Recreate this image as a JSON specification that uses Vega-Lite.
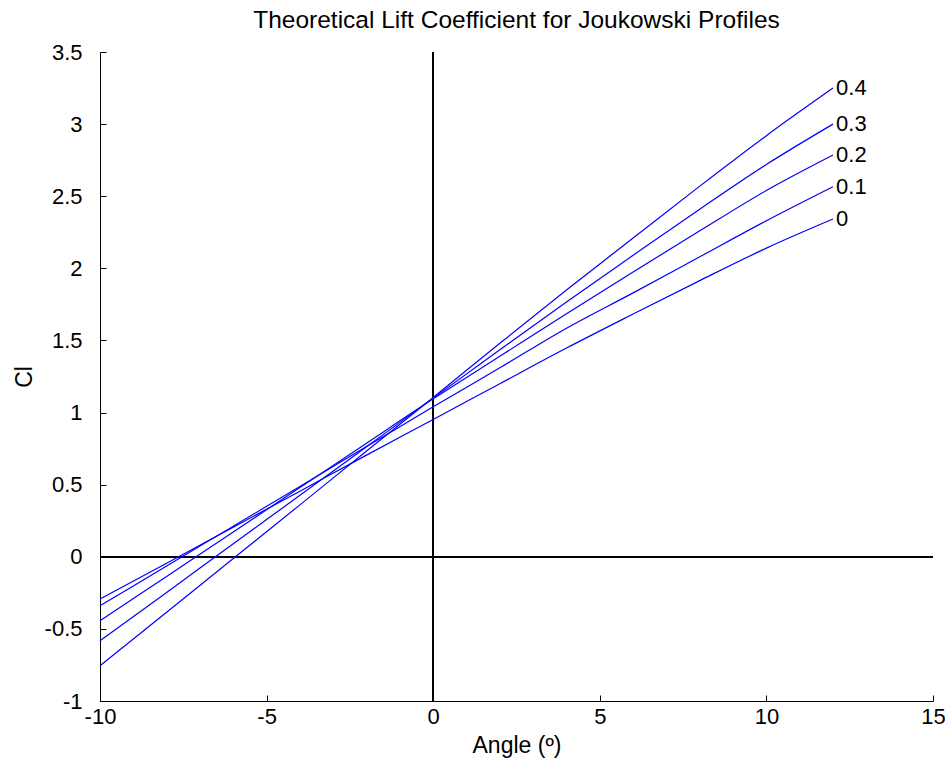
{
  "$schema": "https://vega.github.io/schema/vega-lite/v6.json",
  "autosize": "none",
  "width": 833,
  "height": 649,
  "padding": {"left": 100, "top": 52, "right": 12, "bottom": 68},
  "background": "white",
  "config": {
    "view": {"stroke": null},
    "font": "Liberation Sans",
    "axis": {"grid": false, "domainColor": "black", "tickColor": "black", "labelColor": "black", "titleColor": "black", "labelFont": "Liberation Sans", "titleFont": "Liberation Sans", "labelFontSize": 22, "titleFontSize": 23, "titleFontWeight": "normal", "tickSize": -6, "domainWidth": 1, "tickWidth": 1}
  },
  "title": {"text": "Theoretical Lift Coefficient for Joukowski Profiles", "font": "Liberation Sans", "fontSize": 24.5, "fontWeight": "normal", "color": "black", "anchor": "middle", "offset": 8},
  "data": {"values": [
    {"t": "0", "angle": -10, "cl": -0.293}, {"t": "0", "angle": -8, "cl": -0.045}, {"t": "0", "angle": -6, "cl": 0.205}, {"t": "0", "angle": -4, "cl": 0.455}, {"t": "0", "angle": -2, "cl": 0.705}, {"t": "0", "angle": 0, "cl": 0.952}, {"t": "0", "angle": 2, "cl": 1.2}, {"t": "0", "angle": 4, "cl": 1.447}, {"t": "0", "angle": 6, "cl": 1.683}, {"t": "0", "angle": 8, "cl": 1.915}, {"t": "0", "angle": 10, "cl": 2.14}, {"t": "0", "angle": 12, "cl": 2.342},
    {"t": "0.1", "angle": -10, "cl": -0.34}, {"t": "0.1", "angle": -8, "cl": -0.064}, {"t": "0.1", "angle": -6, "cl": 0.212}, {"t": "0.1", "angle": -4, "cl": 0.488}, {"t": "0.1", "angle": -2, "cl": 0.764}, {"t": "0.1", "angle": 0, "cl": 1.04}, {"t": "0.1", "angle": 2, "cl": 1.31}, {"t": "0.1", "angle": 4, "cl": 1.585}, {"t": "0.1", "angle": 6, "cl": 1.83}, {"t": "0.1", "angle": 8, "cl": 2.08}, {"t": "0.1", "angle": 10, "cl": 2.33}, {"t": "0.1", "angle": 12, "cl": 2.566},
    {"t": "0.2", "angle": -10, "cl": -0.444}, {"t": "0.2", "angle": -8, "cl": -0.136}, {"t": "0.2", "angle": -6, "cl": 0.172}, {"t": "0.2", "angle": -4, "cl": 0.48}, {"t": "0.2", "angle": -2, "cl": 0.788}, {"t": "0.2", "angle": 0, "cl": 1.095}, {"t": "0.2", "angle": 2, "cl": 1.39}, {"t": "0.2", "angle": 4, "cl": 1.685}, {"t": "0.2", "angle": 6, "cl": 1.975}, {"t": "0.2", "angle": 8, "cl": 2.26}, {"t": "0.2", "angle": 10, "cl": 2.54}, {"t": "0.2", "angle": 12, "cl": 2.786},
    {"t": "0.3", "angle": -10, "cl": -0.583}, {"t": "0.3", "angle": -8, "cl": -0.247}, {"t": "0.3", "angle": -6, "cl": 0.09}, {"t": "0.3", "angle": -4, "cl": 0.426}, {"t": "0.3", "angle": -2, "cl": 0.763}, {"t": "0.3", "angle": 0, "cl": 1.1}, {"t": "0.3", "angle": 2, "cl": 1.435}, {"t": "0.3", "angle": 4, "cl": 1.767}, {"t": "0.3", "angle": 6, "cl": 2.09}, {"t": "0.3", "angle": 8, "cl": 2.41}, {"t": "0.3", "angle": 10, "cl": 2.72}, {"t": "0.3", "angle": 12, "cl": 3.0},
    {"t": "0.4", "angle": -10, "cl": -0.756}, {"t": "0.4", "angle": -8, "cl": -0.384}, {"t": "0.4", "angle": -6, "cl": -0.012}, {"t": "0.4", "angle": -4, "cl": 0.36}, {"t": "0.4", "angle": -2, "cl": 0.733}, {"t": "0.4", "angle": 0, "cl": 1.105}, {"t": "0.4", "angle": 2, "cl": 1.48}, {"t": "0.4", "angle": 4, "cl": 1.85}, {"t": "0.4", "angle": 6, "cl": 2.21}, {"t": "0.4", "angle": 8, "cl": 2.57}, {"t": "0.4", "angle": 10, "cl": 2.92}, {"t": "0.4", "angle": 12, "cl": 3.25}
  ]},
  "encoding": {
    "x": {"field": "angle", "type": "quantitative", "scale": {"domain": [-10, 15], "nice": false, "zero": false}, "axis": {"title": "Angle (º)", "values": [-10, -5, 0, 5, 10, 15], "labelExpr": "'' + datum.value", "labelPadding": 11, "titlePadding": 7, "labelFlush": false}},
    "y": {"field": "cl", "type": "quantitative", "scale": {"domain": [-1, 3.5], "nice": false, "zero": false}, "axis": {"title": "Cl", "values": [-1, -0.5, 0, 0.5, 1, 1.5, 2, 2.5, 3, 3.5], "labelExpr": "'' + datum.value", "labelPadding": 24, "titlePadding": 8, "labelFlush": false}}
  },
  "layer": [
    {"mark": {"type": "rule", "color": "black", "strokeWidth": 1.5}, "encoding": {"y": {"datum": 0}, "x": null}},
    {"mark": {"type": "rule", "color": "black", "strokeWidth": 1.5}, "encoding": {"x": {"datum": 0}, "y": null}},
    {"mark": {"type": "line", "color": "#0000ff", "strokeWidth": 1.2, "interpolate": "monotone"}, "encoding": {"detail": {"field": "t"}}},
    {"transform": [{"filter": "datum.angle === 12"}], "mark": {"type": "text", "align": "left", "baseline": "middle", "dx": 3, "fontSize": 22, "font": "Liberation Sans", "color": "black"}, "encoding": {"text": {"field": "t"}}}
  ]
}
